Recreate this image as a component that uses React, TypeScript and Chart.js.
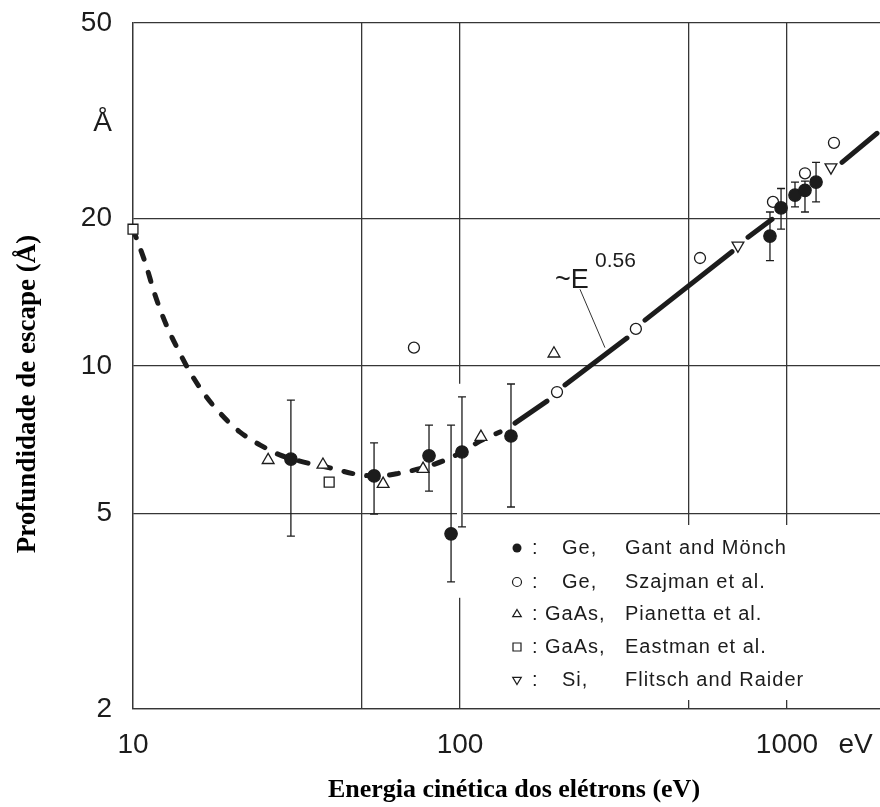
import React, { useEffect, useRef } from 'react';
import { Chart, registerables } from 'chart.js';

Chart.register(...registerables);

// ---------- data ----------
const geGantE = [30.4, 54.6, 80.4, 93.9, 101.4, 143.2, 887, 959, 1058, 1135, 1227];
const geGantD = [6.46, 5.97, 6.56, 4.55, 6.68, 7.2, 18.4, 21.0, 22.3, 22.8, 23.7];
const geGantHigh = [8.52, 6.97, 7.58, 7.58, 8.65, 9.19, 20.6, 23.0, 23.7, 23.8, 26.0];
const geGantLow = [4.5, 4.99, 5.56, 3.63, 4.7, 5.16, 16.4, 19.0, 21.1, 20.6, 21.6];

const geSzajmanE = [72.3, 198, 345, 542, 906, 1135, 1392];
const geSzajmanD = [10.9, 8.85, 11.9, 16.6, 21.6, 24.7, 28.5];

const gaasPianettaE = [25.9, 38.1, 58.2, 77.1, 115.9, 193.8];
const gaasPianettaD = [6.43, 6.29, 5.75, 6.17, 7.17, 10.6];

const gaasEastmanE = [10, 39.8];
const gaasEastmanD = [19.0, 5.8];

const siFlitschE = [708, 1363];
const siFlitschD = [17.6, 25.4];

const curveDashedE = [10, 10.88, 11.68, 12.53, 13.73, 14.94, 16.6, 18.45, 21.2, 24.5, 28.1, 32.4, 40.0, 49.4, 56.9, 65.5, 78.2, 90.0, 101.4, 115.1, 132.6];
const curveDashedD = [19.0, 16.3, 13.95, 12.3, 10.8, 9.72, 8.73, 8.02, 7.34, 6.9, 6.59, 6.4, 6.2, 6.0, 5.97, 6.05, 6.22, 6.43, 6.68, 7.03, 7.34];

const curveSolidE = [147.3, 184.5, null, 209.4, 324, null, 367.9, 678.9, null, 759.9, 900, null, 1473, 1885];
const curveSolidD = [7.65, 8.48, null, 9.15, 11.4, null, 12.4, 17.1, null, 18.3, 19.9, null, 26.0, 29.8];

const xTickValues = [10, 50, 100, 500, 1000, 1620];
const xTickLabels = ['10', '', '100', '', '1000', 'eV'];
const xGridValues = [10, 50, 100, 500, 1000];

const yTickValues = [2, 5, 10, 20, 31.3, 50];
const yTickLabels = ['2', '5', '10', '20', 'Å', '50'];
const yGridValues = [2, 5, 10, 20, 50];

const legendMaterials = ['Ge,', 'Ge,', 'GaAs,', 'GaAs,', 'Si,'];
const legendAuthors = ['Gant and Mönch', 'Szajman et al.', 'Pianetta et al.', 'Eastman et al.', 'Flitsch and Raider'];
const legendSymbols = ['filledCircle', 'openCircle', 'triangleUp', 'square', 'triangleDown'];

const xTitle = 'Energia cinética dos elétrons (eV)';
const yTitle = 'Profundidade de escape (Å)';

// ---------- styling ----------
const INK = '#1c1c1c';
const GRID = '#363636';
const SANS = '"Liberation Sans", Arial, sans-serif';
const SERIF = '"Liberation Serif", "Times New Roman", serif';

const pts = (xs: (number | null)[], ys: (number | null)[]) => xs.map((x, i) => ({ x, y: ys[i] }));

function drawMarker(ctx: CanvasRenderingContext2D, kind: string, cx: number, cy: number, r: number) {
  ctx.save();
  ctx.lineWidth = 1.2;
  ctx.strokeStyle = INK;
  ctx.fillStyle = '#fff';
  ctx.beginPath();
  if (kind === 'filledCircle') {
    ctx.fillStyle = INK;
    ctx.arc(cx, cy, r, 0, Math.PI * 2);
    ctx.fill();
  } else if (kind === 'openCircle') {
    ctx.arc(cx, cy, r, 0, Math.PI * 2);
    ctx.fill();
    ctx.stroke();
  } else if (kind === 'square') {
    ctx.rect(cx - r, cy - r, 2 * r, 2 * r);
    ctx.fill();
    ctx.stroke();
  } else {
    const dir = kind === 'triangleUp' ? 1 : -1;
    ctx.moveTo(cx, cy - dir * r);
    ctx.lineTo(cx + r * 0.95, cy + dir * r * 0.6);
    ctx.lineTo(cx - r * 0.95, cy + dir * r * 0.6);
    ctx.closePath();
    ctx.fill();
    ctx.stroke();
  }
  ctx.restore();
}

const decorPlugin = {
  id: 'decor',
  beforeDatasetsDraw(chart: any) {
    const { ctx, scales } = chart;
    const x = scales.x;
    const y = scales.y;
    ctx.save();
    // white areas interrupting the grid (as in the original figure)
    ctx.fillStyle = '#fff';
    const x100 = x.getPixelForValue(100);
    const gTop = y.getPixelForValue(9.2);
    const gBot = y.getPixelForValue(3.37);
    ctx.fillRect(x100 - 3, gTop, 6, gBot - gTop);
    // legend panel
    ctx.fillRect(480, 525, 400, 175);

    // error bars
    ctx.strokeStyle = INK;
    ctx.lineWidth = 1.3;
    geGantE.forEach((e, i) => {
      const px = x.getPixelForValue(e);
      const hi = y.getPixelForValue(geGantHigh[i]);
      const lo = y.getPixelForValue(geGantLow[i]);
      ctx.beginPath();
      ctx.moveTo(px, hi);
      ctx.lineTo(px, lo);
      ctx.moveTo(px - 4, hi);
      ctx.lineTo(px + 4, hi);
      ctx.moveTo(px - 4, lo);
      ctx.lineTo(px + 4, lo);
      ctx.stroke();
    });
    ctx.restore();
  },
  afterDatasetsDraw(chart: any) {
    const { ctx, scales } = chart;
    const x = scales.x;
    const y = scales.y;
    ctx.save();

    // ~E^0.56 annotation with leader line
    ctx.strokeStyle = '#333';
    ctx.lineWidth = 1;
    ctx.beginPath();
    ctx.moveTo(x.getPixelForValue(232.8), y.getPixelForValue(14.33));
    ctx.lineTo(x.getPixelForValue(277.5), y.getPixelForValue(10.9));
    ctx.stroke();
    ctx.fillStyle = INK;
    ctx.textBaseline = 'alphabetic';
    ctx.textAlign = 'left';
    ctx.font = `27px ${SANS}`;
    ctx.fillText('~E', x.getPixelForValue(195.2), y.getPixelForValue(14.42));
    ctx.font = `21px ${SANS}`;
    ctx.fillText('0.56', x.getPixelForValue(258.7), y.getPixelForValue(15.9));

    // legend
    const rowYs = [548, 582, 614, 647, 680];
    ctx.font = `20px ${SANS}`;
    (ctx as any).letterSpacing = '1px';
    ctx.textBaseline = 'middle';
    legendAuthors.forEach((author, i) => {
      const cy = rowYs[i];
      drawMarker(ctx, legendSymbols[i], 517, cy, legendSymbols[i] === 'square' ? 4 : 4.5);
      ctx.fillStyle = INK;
      ctx.fillText(':', 532, cy);
      const mat = legendMaterials[i];
      ctx.fillText(mat, mat.length > 3 ? 545 : 562, cy);
      ctx.fillText(author, 625, cy);
    });
    (ctx as any).letterSpacing = '0px';

    // axis titles
    ctx.fillStyle = '#000';
    ctx.font = `bold 26px ${SERIF}`;
    ctx.textAlign = 'center';
    ctx.textBaseline = 'alphabetic';
    ctx.fillText(xTitle, 514, 797);
    ctx.translate(35, 394);
    ctx.rotate(-Math.PI / 2);
    ctx.font = `bold 27px ${SERIF}`;
    ctx.fillText(yTitle, 0, 0);
    ctx.restore();
  },
};

export default function App() {
  const ref = useRef<HTMLCanvasElement>(null);

  useEffect(() => {
    document.body.style.margin = '0';
    const canvas = ref.current;
    if (!canvas) return;

    const markerBase = { showLine: false, order: 1, clip: false, pointBorderColor: INK, pointBorderWidth: 1.3, pointBackgroundColor: '#fff' };

    const chart = new Chart(canvas, {
      type: 'scatter',
      data: {
        datasets: [
          { ...markerBase, label: 'Ge, Gant and Mönch', data: pts(geGantE, geGantD), pointStyle: 'circle', pointRadius: 6.2, pointBackgroundColor: INK },
          { ...markerBase, label: 'Ge, Szajman et al.', data: pts(geSzajmanE, geSzajmanD), pointStyle: 'circle', pointRadius: 5.5 },
          { ...markerBase, label: 'GaAs, Pianetta et al.', data: pts(gaasPianettaE, gaasPianettaD), pointStyle: 'triangle', pointRadius: 6.8 },
          { ...markerBase, label: 'GaAs, Eastman et al.', data: pts(gaasEastmanE, gaasEastmanD), pointStyle: 'rect', pointRadius: 7 },
          { ...markerBase, label: 'Si, Flitsch and Raider', data: pts(siFlitschE, siFlitschD), pointStyle: 'triangle', pointRotation: 180, pointRadius: 6.8 },
          {
            label: 'curve (dashed)', data: pts(curveDashedE, curveDashedD), showLine: true, order: 5, clip: false,
            pointRadius: 0, borderColor: INK, borderWidth: 5, borderDash: [9, 14], borderCapStyle: 'round',
            cubicInterpolationMode: 'monotone',
          },
          {
            label: 'curve ~E^0.56', data: pts(curveSolidE, curveSolidD), showLine: true, order: 5, spanGaps: false, clip: false,
            pointRadius: 0, borderColor: INK, borderWidth: 5, borderCapStyle: 'round', tension: 0,
          },
        ],
      } as any,
      options: {
        animation: false,
        responsive: false,
        devicePixelRatio: 1,
        events: [],
        layout: { autoPadding: false, padding: { top: 23, left: 0, right: 0, bottom: 0 } },
        plugins: { legend: { display: false }, tooltip: { enabled: false }, title: { display: false } },
        scales: {
          x: {
            type: 'logarithmic',
            min: 10,
            max: 1925,
            afterBuildTicks: (s: any) => { s.ticks = xTickValues.map((v) => ({ value: v })); },
            afterFit: (s: any) => {
              s.height = 98;
              s.paddingLeft = 0;
              s.paddingRight = 0;
              s.paddingTop = 0;
              s.paddingBottom = 0;
            },
            grid: {
              drawTicks: false,
              lineWidth: 1.3,
              color: (c: any) => (c.tick && xGridValues.includes(c.tick.value) ? GRID : 'rgba(0,0,0,0)'),
            },
            border: { display: true, color: GRID, width: 1.3 },
            ticks: {
              autoSkip: false,
              maxRotation: 0,
              minRotation: 0,
              padding: 19,
              color: INK,
              font: { family: SANS, size: 28 },
              callback: (_v: any, i: number) => xTickLabels[i],
            },
          },
          y: {
            type: 'logarithmic',
            min: 2,
            max: 50,
            afterBuildTicks: (s: any) => { s.ticks = yTickValues.map((v) => ({ value: v })); },
            afterFit: (s: any) => {
              s.width = 133;
              s.paddingLeft = 0;
              s.paddingRight = 0;
              s.paddingTop = 0;
              s.paddingBottom = 0;
            },
            grid: {
              drawTicks: false,
              lineWidth: 1.3,
              color: (c: any) => (c.tick && yGridValues.includes(c.tick.value) ? GRID : 'rgba(0,0,0,0)'),
            },
            border: { display: true, color: GRID, width: 1.3 },
            ticks: {
              autoSkip: false,
              padding: 21,
              color: INK,
              font: { family: SANS, size: 28 },
              callback: (_v: any, i: number) => yTickLabels[i],
            },
          },
        },
      } as any,
      plugins: [decorPlugin],
    });

    return () => chart.destroy();
  }, []);

  return (
    <div style={{ width: 880, height: 807, background: '#fff' }}>
      <canvas ref={ref} width={880} height={807} style={{ display: 'block' }} />
    </div>
  );
}
